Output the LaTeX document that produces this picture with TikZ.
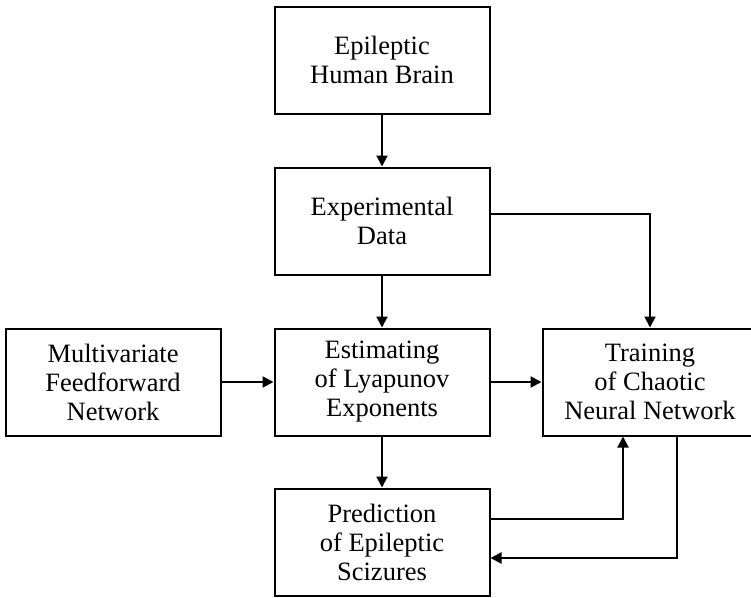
\documentclass[tikz,border=0pt]{standalone}
\usepackage{fontspec}
\setmainfont{Liberation Serif}
\usetikzlibrary{arrows.meta}

\begin{document}
\begin{tikzpicture}[x=1pt,y=-1pt,line width=2pt,
	block/.style={draw,rectangle,minimum width=215pt,minimum height=107pt,
		align=center,inner sep=0pt,font=\fontsize{26.5}{29}\selectfont},
	link/.style={-{Triangle[length=11pt,width=11pt]}}]
	\useasboundingbox (0,0) rectangle (751,597);
	\node[block] (brain) at (382,60) {Epileptic\\Human Brain};
	\node[block] (data) at (382,221) {Experimental\\Data};
	\node[block] (mff) at (113,382) {Multivariate\\Feedforward\\Network};
	\node[block] (lyap) at (382,382) {Estimating\\of Lyapunov\\Exponents};
	\node[block] (train) at (650,382) {Training\\of Chaotic\\Neural Network};
	\node[block] (pred) at (382,542) {Prediction\\of Epileptic\\Scizures};
	\draw[link] (brain) -- (data);
	\draw[link] (data) -- (lyap);
	\draw[link] ([yshift=7pt]data.east) -| (train.north);
	\draw[link] (mff) -- (lyap);
	\draw[link] (lyap) -- (train);
	\draw[link] (lyap) -- (pred);
	% feedback loop between training and prediction
	\draw[link] ([yshift=23pt]pred.east) -| ([xshift=-27pt]train.south);
	\draw[link] ([xshift=27pt]train.south) |- ([yshift=-16pt]pred.east);
\end{tikzpicture}
\end{document}
